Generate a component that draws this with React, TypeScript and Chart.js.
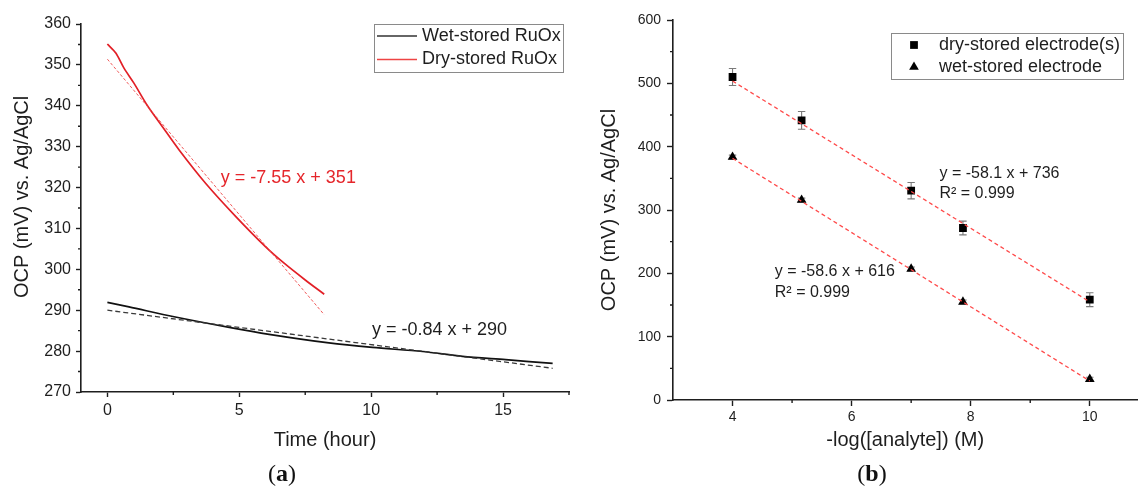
import React, { useEffect, useRef } from "react";
import { Chart, registerables } from "chart.js";

Chart.register(...registerables);

// ---------- Panel (a): OCP vs time ----------
const wetTime = [0, 0.82, 2.53, 4.62, 6.13, 8.4, 10.05, 11.95, 13.46, 15.1, 16.88];
const wetOcp = [291.9, 290.8, 288.4, 285.8, 284.1, 282.0, 280.9, 279.9, 278.7, 277.9, 277.0];
const dryTime = [0, 0.32, 0.63, 1.0, 1.52, 2.02, 2.72, 3.73, 4.87, 6.0, 6.7, 7.5, 8.22];
const dryOcp = [355.1, 352.9, 349.2, 345.6, 340.0, 335.5, 329.2, 321.0, 312.9, 305.5, 301.5, 297.4, 293.9];
const wetFitTime = [0, 16.88];
const wetFitOcp = [290.0, 275.8];
const dryFitTime = [0, 8.22];
const dryFitOcp = [351.4, 288.9];
const timeMajorTicks = [0, 5, 10, 15];
const timeMinorTicks = [2.5, 7.5, 12.5, 17.5];
const ocpAMajorTicks = [270, 280, 290, 300, 310, 320, 330, 340, 350, 360];
const ocpAMinorTicks = [275, 285, 295, 305, 315, 325, 335, 345, 355];
const wetLabel = "Wet-stored RuOx";
const dryLabel = "Dry-stored RuOx";
const dryEquation = "y = -7.55 x + 351";
const wetEquation = "y = -0.84 x + 290";

// ---------- Panel (b): OCP vs -log[analyte] ----------
const concentration = [4, 5.16, 7, 7.87, 10];
const dryElectrodeOcp = [510, 441.6, 330.5, 271.6, 158.4];
const dryElectrodeErr = [13.4, 14, 13, 10.8, 11];
const wetElectrodeOcp = [383.7, 315.8, 207, 155, 33];
const wetElectrodeErr = [3, 3, 3, 3, 3];
const fitConc = [4, 10];
const dryFitLine = [503.6, 155];
const wetFitLine = [381.6, 30];
const concMajorTicks = [4, 6, 8, 10];
const concMinorTicks = [5, 7, 9];
const ocpBMajorTicks = [0, 100, 200, 300, 400, 500, 600];
const ocpBMinorTicks = [50, 150, 250, 350, 450, 550];
const dryElectrodeLabel = "dry-stored electrode(s)";
const wetElectrodeLabel = "wet-stored electrode";
const dryFitText = ["y = -58.1 x + 736", "R\u00B2 = 0.999"];
const wetFitText = ["y = -58.6 x + 616", "R\u00B2 = 0.999"];

const FONT = "'Liberation Sans', Arial, sans-serif";
const INK = "#1e1e1e";

const pts = (xs: number[], ys: number[]) => xs.map((x, i) => ({ x, y: ys[i] }));

const minorTicksPlugin = {
  id: "minorTicks",
  afterDraw(chart: any, _args: any, opts: any) {
    const { ctx, chartArea, scales } = chart;
    ctx.save();
    ctx.strokeStyle = opts.color;
    ctx.lineWidth = opts.width;
    ctx.beginPath();
    for (const v of opts.x || []) {
      const px = scales.x.getPixelForValue(v);
      ctx.moveTo(px, chartArea.bottom);
      ctx.lineTo(px, chartArea.bottom + opts.length);
    }
    for (const v of opts.y || []) {
      const py = scales.y.getPixelForValue(v);
      ctx.moveTo(chartArea.left - opts.length, py);
      ctx.lineTo(chartArea.left, py);
    }
    ctx.stroke();
    ctx.restore();
  },
};

const errorBarsPlugin = {
  id: "errorBars",
  beforeDatasetsDraw(chart: any, _args: any, opts: any) {
    const { ctx, scales } = chart;
    ctx.save();
    ctx.strokeStyle = opts.color;
    ctx.lineWidth = opts.width;
    for (const item of opts.items || []) {
      const ds = chart.data.datasets[item.datasetIndex];
      const meta = chart.getDatasetMeta(item.datasetIndex);
      meta.data.forEach((el: any, i: number) => {
        const raw = ds.data[i];
        const e = item.errors[i];
        const yt = scales.y.getPixelForValue(raw.y + e);
        const yb = scales.y.getPixelForValue(raw.y - e);
        const x = el.x;
        ctx.beginPath();
        ctx.moveTo(x, yt);
        ctx.lineTo(x, yb);
        ctx.moveTo(x - opts.cap, yt);
        ctx.lineTo(x + opts.cap, yt);
        ctx.moveTo(x - opts.cap, yb);
        ctx.lineTo(x + opts.cap, yb);
        ctx.stroke();
      });
    }
    ctx.restore();
  },
};

const textNotesPlugin = {
  id: "textNotes",
  afterDraw(chart: any, _args: any, opts: any) {
    const { ctx, scales } = chart;
    ctx.save();
    for (const n of opts.items || []) {
      ctx.font = `${n.size}px ${FONT}`;
      ctx.fillStyle = n.color;
      ctx.textAlign = "left";
      ctx.textBaseline = "middle";
      const px = scales.x.getPixelForValue(n.x);
      const py = scales.y.getPixelForValue(n.y);
      n.lines.forEach((t: string, i: number) => ctx.fillText(t, px, py + i * n.gap));
    }
    ctx.restore();
  },
};

function drawMarker(ctx: CanvasRenderingContext2D, style: string, x: number, y: number, r: number) {
  ctx.beginPath();
  if (style === "rect") {
    const s = r * Math.SQRT1_2;
    ctx.rect(x - s, y - s, 2 * s, 2 * s);
  } else {
    for (let k = 0; k < 3; k++) {
      const a = (k * 2 * Math.PI) / 3;
      const px = x + Math.sin(a) * r;
      const py = y - Math.cos(a) * r;
      if (k === 0) ctx.moveTo(px, py);
      else ctx.lineTo(px, py);
    }
    ctx.closePath();
  }
  ctx.fill();
}

const boxLegendPlugin = {
  id: "boxLegend",
  afterDraw(chart: any, _args: any, opts: any) {
    const { ctx } = chart;
    ctx.save();
    ctx.strokeStyle = opts.borderColor;
    ctx.lineWidth = 1;
    ctx.strokeRect(opts.x + 0.5, opts.y + 0.5, opts.w, opts.h);
    ctx.font = `${opts.size}px ${FONT}`;
    ctx.textAlign = "left";
    ctx.textBaseline = "middle";
    for (const it of opts.items) {
      const ds = chart.data.datasets[it.datasetIndex];
      if (it.kind === "line") {
        ctx.strokeStyle = it.color;
        ctx.lineWidth = 1.3;
        ctx.beginPath();
        ctx.moveTo(opts.sampleX0, it.y);
        ctx.lineTo(opts.sampleX1, it.y);
        ctx.stroke();
      } else {
        ctx.fillStyle = ds.backgroundColor;
        drawMarker(ctx, ds.pointStyle, opts.sampleX0, it.y, ds.pointRadius);
      }
      ctx.fillStyle = INK;
      ctx.fillText(ds.label, opts.textX, it.y);
    }
    ctx.restore();
  },
};

const setTicks = (values: number[]) => (axis: any) => {
  axis.ticks = values.map((v) => ({ value: v }));
};

function axisCommon(tickLength: number, tickSize: number, tickPadding: number) {
  return {
    type: "linear" as const,
    grid: {
      display: true,
      drawOnChartArea: false,
      drawTicks: true,
      tickLength,
      tickColor: INK,
      tickWidth: 1.4,
    },
    border: { display: true, color: INK, width: 1.6 },
    ticks: {
      font: { size: tickSize, family: FONT },
      color: INK,
      padding: tickPadding,
      maxRotation: 0,
      autoSkip: false,
    },
  };
}

export default function App() {
  const refA = useRef<HTMLCanvasElement | null>(null);
  const refB = useRef<HTMLCanvasElement | null>(null);

  useEffect(() => {
    Chart.defaults.font.family = FONT;
    const chartA = new Chart(refA.current as HTMLCanvasElement, {
      type: "scatter",
      data: {
        datasets: [
          {
            label: wetLabel + " fit",
            data: pts(wetFitTime, wetFitOcp),
            showLine: true,
            borderColor: "#3a3a3a",
            borderWidth: 1.3,
            borderDash: [5, 3],
            pointRadius: 0,
          },
          {
            label: dryLabel + " fit",
            data: pts(dryFitTime, dryFitOcp),
            showLine: true,
            borderColor: "#ee4a4a",
            borderWidth: 0.9,
            borderDash: [3, 2],
            pointRadius: 0,
          },
          {
            label: wetLabel,
            data: pts(wetTime, wetOcp),
            showLine: true,
            borderColor: "#111111",
            borderWidth: 1.7,
            pointRadius: 0,
            tension: 0.3,
          },
          {
            label: dryLabel,
            data: pts(dryTime, dryOcp),
            showLine: true,
            borderColor: "#e21f26",
            borderWidth: 1.7,
            pointRadius: 0,
            tension: 0.3,
          },
        ],
      } as any,
      options: {
        animation: false,
        responsive: false,
        events: [],
        layout: { padding: { left: 0, top: 24, right: 6, bottom: 30 } },
        plugins: {
          legend: { display: false },
          tooltip: { enabled: false },
          minorTicks: { x: timeMinorTicks, y: ocpAMinorTicks, length: 3, color: INK, width: 1.4 },
          textNotes: {
            items: [
              { x: 4.3, y: 322.35, lines: [dryEquation], color: "#e5262b", size: 18, gap: 0 },
              { x: 10.03, y: 285.1, lines: [wetEquation], color: INK, size: 18, gap: 0 },
            ],
          },
          boxLegend: {
            x: 374,
            y: 24,
            w: 189,
            h: 48,
            borderColor: "#8a8a8a",
            size: 18,
            sampleX0: 377,
            sampleX1: 417,
            textX: 422,
            items: [
              { datasetIndex: 2, kind: "line", color: "#333333", y: 36 },
              { datasetIndex: 3, kind: "line", color: "#ee4444", y: 59.5 },
            ],
          },
        } as any,
        scales: {
          x: {
            ...axisCommon(5, 16, 4),
            min: -1,
            max: 17.5,
            afterBuildTicks: setTicks(timeMajorTicks),
            afterFit: (s: any) => {
              s.height = 64;
            },
            title: {
              display: true,
              text: "Time (hour)",
              color: INK,
              font: { size: 20, family: FONT },
              padding: { top: 0, bottom: 4 },
            },
          },
          y: {
            ...axisCommon(5, 16, 5),
            min: 270,
            max: 360,
            afterBuildTicks: setTicks(ocpAMajorTicks),
            afterFit: (s: any) => {
              s.width = 81;
            },
            title: {
              display: true,
              text: "    OCP (mV) vs. Ag/AgCl",
              color: INK,
              font: { size: 20, family: FONT },
              padding: { top: 10.5, bottom: 0 },
            },
          },
        } as any,
      },
      plugins: [minorTicksPlugin, textNotesPlugin, boxLegendPlugin],
    } as any);

    const chartB = new Chart(refB.current as HTMLCanvasElement, {
      type: "scatter",
      data: {
        datasets: [
          {
            label: "dry fit",
            data: pts(fitConc, dryFitLine),
            showLine: true,
            borderColor: "#ff4a4a",
            borderWidth: 1.3,
            borderDash: [4, 3],
            pointRadius: 0,
            order: 0,
          },
          {
            label: "wet fit",
            data: pts(fitConc, wetFitLine),
            showLine: true,
            borderColor: "#ff4a4a",
            borderWidth: 1.3,
            borderDash: [4, 3],
            pointRadius: 0,
            order: 0,
          },
          {
            label: dryElectrodeLabel,
            data: pts(concentration, dryElectrodeOcp),
            pointStyle: "rect",
            pointRadius: 5.5,
            backgroundColor: "#000000",
            borderWidth: 0,
            order: 1,
          },
          {
            label: wetElectrodeLabel,
            data: pts(concentration, wetElectrodeOcp),
            pointStyle: "triangle",
            pointRadius: 5.6,
            backgroundColor: "#000000",
            borderWidth: 0,
            order: 1,
          },
        ],
      } as any,
      options: {
        animation: false,
        responsive: false,
        events: [],
        layout: { padding: { left: 0, top: 20, right: 1, bottom: 26 } },
        plugins: {
          legend: { display: false },
          tooltip: { enabled: false },
          minorTicks: { x: concMinorTicks, y: ocpBMinorTicks, length: 3, color: INK, width: 1.4 },
          errorBars: {
            color: "#7a7a7a",
            width: 1.1,
            cap: 3.7,
            items: [
              { datasetIndex: 2, errors: dryElectrodeErr },
              { datasetIndex: 3, errors: wetElectrodeErr },
            ],
          },
          textNotes: {
            items: [
              { x: 7.475, y: 358, lines: dryFitText, color: INK, size: 16, gap: 20.5 },
              { x: 4.71, y: 202.6, lines: wetFitText, color: INK, size: 16, gap: 20.5 },
            ],
          },
          boxLegend: {
            x: 316,
            y: 33,
            w: 232,
            h: 46,
            borderColor: "#8a8a8a",
            size: 18,
            sampleX0: 339,
            sampleX1: 339,
            textX: 364,
            items: [
              { datasetIndex: 2, kind: "point", y: 45 },
              { datasetIndex: 3, kind: "point", y: 67 },
            ],
          },
        } as any,
        scales: {
          x: {
            ...axisCommon(6, 14, 3),
            min: 3,
            max: 10.8,
            afterBuildTicks: setTicks(concMajorTicks),
            afterFit: (s: any) => {
              s.height = 60;
            },
            title: {
              display: true,
              text: "-log([analyte]) (M)",
              color: INK,
              font: { size: 20, family: FONT },
              padding: { top: 0, bottom: 8 },
            },
          },
          y: {
            ...axisCommon(6, 14, 6),
            min: 0,
            max: 600,
            afterBuildTicks: setTicks(ocpBMajorTicks),
            afterFit: (s: any) => {
              s.width = 98;
            },
            title: {
              display: true,
              text: "OCP (mV) vs. Ag/AgCl",
              color: INK,
              font: { size: 20, family: FONT },
              padding: { top: 22, bottom: 0 },
            },
          },
        } as any,
      },
      plugins: [minorTicksPlugin, errorBarsPlugin, textNotesPlugin, boxLegendPlugin],
    } as any);

    return () => {
      chartA.destroy();
      chartB.destroy();
    };
  }, []);

  const panelLabel: React.CSSProperties = {
    position: "absolute",
    top: 473,
    transform: "translate(-50%, -50%)",
    fontFamily: "'Liberation Serif', 'Times New Roman', serif",
    fontSize: 24,
    lineHeight: 1,
    color: "#111",
    whiteSpace: "nowrap",
  };

  return (
    <div style={{ position: "absolute", left: 0, top: 0, width: 1143, height: 486, background: "#fff", overflow: "hidden" }}>
      <canvas ref={refA} width={575} height={486} style={{ position: "absolute", left: 0, top: 0 }} />
      <canvas ref={refB} width={568} height={486} style={{ position: "absolute", left: 575, top: 0 }} />
      <div style={{ ...panelLabel, left: 282 }}>
        (<b>a</b>)
      </div>
      <div style={{ ...panelLabel, left: 872 }}>
        (<b>b</b>)
      </div>
    </div>
  );
}
